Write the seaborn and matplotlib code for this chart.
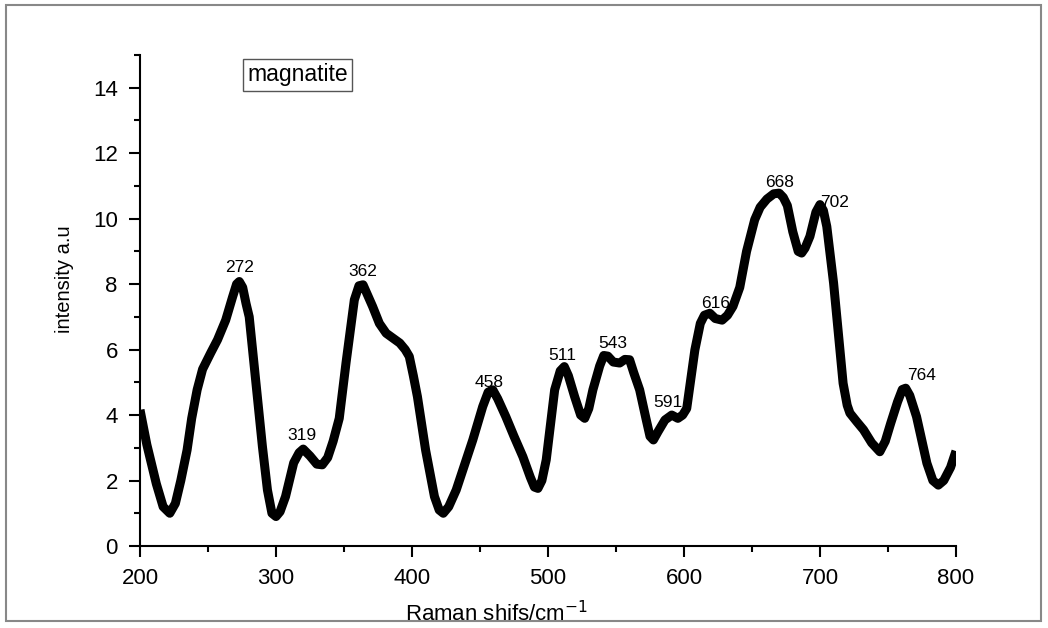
import numpy as np
import pandas as pd
import matplotlib.pyplot as plt
import seaborn as sns
from matplotlib.patches import Rectangle

# Raman spectrum
raman_shift = [200, 205, 212, 217, 221.9, 226, 230, 234.6, 238, 242,
               246, 252, 257, 263, 268, 271, 273, 275.5, 278, 280.3,
               285, 290, 293.7, 297, 300, 303, 307, 313, 317, 320,
               325, 330, 334, 338, 342, 346.5, 351.5, 357.6, 361, 364,
               367, 371, 376, 381, 386, 391, 395, 398, 401, 404,
               410, 416.5, 420, 423, 427, 432.5, 438, 444.7, 452, 456,
               459.4, 463, 469, 475, 481.5, 487, 490, 492.6, 495.5, 498.7,
               504.9, 509, 512, 515, 519.6, 524, 527, 530, 533, 538,
               541, 544, 548, 552.7, 556.5, 560, 563, 567.4, 572, 575,
               577.5, 581, 586, 591, 595.5, 599, 602, 608, 612, 615,
               619, 623, 628, 632, 636, 641, 646, 652, 656, 661,
               666, 670, 673, 676, 680, 684, 686.5, 689, 692.6, 697,
               700, 702.5, 705, 710, 713.5, 717, 720, 722, 727, 732,
               738, 744, 748, 752, 757, 760.5, 763, 766, 771, 778.6,
               783, 787, 791, 796, 800]
intensity = [4.16, 3.1, 1.9, 1.2, 1.0, 1.3, 2.0, 2.93, 3.9, 4.77,
             5.4, 5.9, 6.3, 6.9, 7.6, 8.0, 8.08, 7.9, 7.4, 7.0,
             5.07, 3.04, 1.71, 1.0, 0.9, 1.05, 1.51, 2.54, 2.85, 2.96,
             2.75, 2.5, 2.48, 2.7, 3.2, 3.9, 5.6, 7.52, 7.95, 7.98,
             7.7, 7.32, 6.8, 6.5, 6.35, 6.2, 6.0, 5.79, 5.2, 4.56,
             2.93, 1.51, 1.1, 1.0, 1.2, 1.71, 2.4, 3.24, 4.26, 4.7,
             4.77, 4.5, 3.95, 3.35, 2.73, 2.1, 1.8, 1.76, 2.0, 2.63,
             4.77, 5.35, 5.48, 5.2, 4.56, 4.0, 3.9, 4.2, 4.77, 5.5,
             5.82, 5.8, 5.62, 5.59, 5.7, 5.69, 5.3, 4.77, 3.9, 3.35,
             3.24, 3.5, 3.85, 4.0, 3.9, 4.0, 4.2, 5.99, 6.8, 7.05,
             7.11, 6.95, 6.9, 7.05, 7.32, 7.9, 9.0, 9.97, 10.35, 10.6,
             10.76, 10.78, 10.65, 10.4, 9.6, 9.0, 8.95, 9.1, 9.46, 10.2,
             10.43, 10.25, 9.76, 8.03, 6.5, 4.97, 4.3, 4.06, 3.8, 3.55,
             3.15, 2.88, 3.2, 3.75, 4.4, 4.78, 4.82, 4.6, 3.95, 2.53,
             2.0, 1.86, 2.0, 2.4, 2.9]

# peak annotations (text, x, y)
peak_text = ["272", "319", "362", "458", "511", "543", "591", "616", "668", "702", "764"]
peak_x = [272.9, 319.3, 363.5, 457, 510.6, 548, 588, 623.3, 670.5, 711, 775]
peak_y = [8.5, 3.39, 8.38, 4.98, 5.82, 6.19, 4.37, 7.4, 11.1, 10.49, 5.2]

df = pd.DataFrame({"shift": raman_shift, "intensity": intensity})

sns.set_style("ticks")
plt.rcParams['font.family'] = ['Liberation Sans', 'DejaVu Sans']
plt.rcParams['text.color'] = 'black'
plt.rcParams['xtick.color'] = 'black'
plt.rcParams['ytick.color'] = 'black'
plt.rcParams['axes.edgecolor'] = 'black'

fig = plt.figure(figsize=(10.48, 6.28), dpi=100)
ax = fig.add_axes([0.1336, 0.1306, 0.7786, 0.7818])

sns.lineplot(data=df, x="shift", y="intensity", ax=ax, color="black",
             linewidth=6.5, sort=False, zorder=3)
ax.lines[0].set_solid_joinstyle("round")
ax.lines[0].set_solid_capstyle("butt")

for t, px, py in zip(peak_text, peak_x, peak_y):
    ax.text(px, py, t, ha="center", va="center", fontsize=12.5, zorder=2)

ax.set_xlim(200, 800)
ax.set_ylim(0, 15)
ax.set_xticks(range(200, 801, 100))
ax.set_xticks(range(250, 800, 100), minor=True)
ax.set_yticks(range(0, 15, 2))
ax.set_yticks(range(1, 16, 2), minor=True)
ax.tick_params(axis="both", which="major", length=8, width=1.5, labelsize=16, pad=8)
ax.tick_params(axis="both", which="minor", length=4, width=1.5)
ax.set_xlabel("")
ax.set_ylabel("")
for s in ["left", "bottom"]:
    ax.spines[s].set_linewidth(1.5)
sns.despine(ax=ax)

fig.text(497 / 1048, 1 - 614 / 628, "Raman shifs/cm$^{-1}$", ha="center", va="center", fontsize=16)
fig.text(65 / 1048, 1 - 279 / 628, "intensity a.u", ha="center", va="center",
         rotation=90, fontsize=14.5)
fig.text(297.5 / 1048, 1 - 75 / 628, "magnatite", ha="center", va="center", fontsize=16.5,
         bbox=dict(boxstyle="square,pad=0.2", facecolor="white", edgecolor="#555555", linewidth=1))

fig.patches.append(Rectangle((6 / 1048, 1 - 621 / 628), 1035 / 1048, 616 / 628,
                             transform=fig.transFigure, fill=False,
                             edgecolor="#888888", linewidth=1.5))

fig.savefig("out.png", dpi=100)
